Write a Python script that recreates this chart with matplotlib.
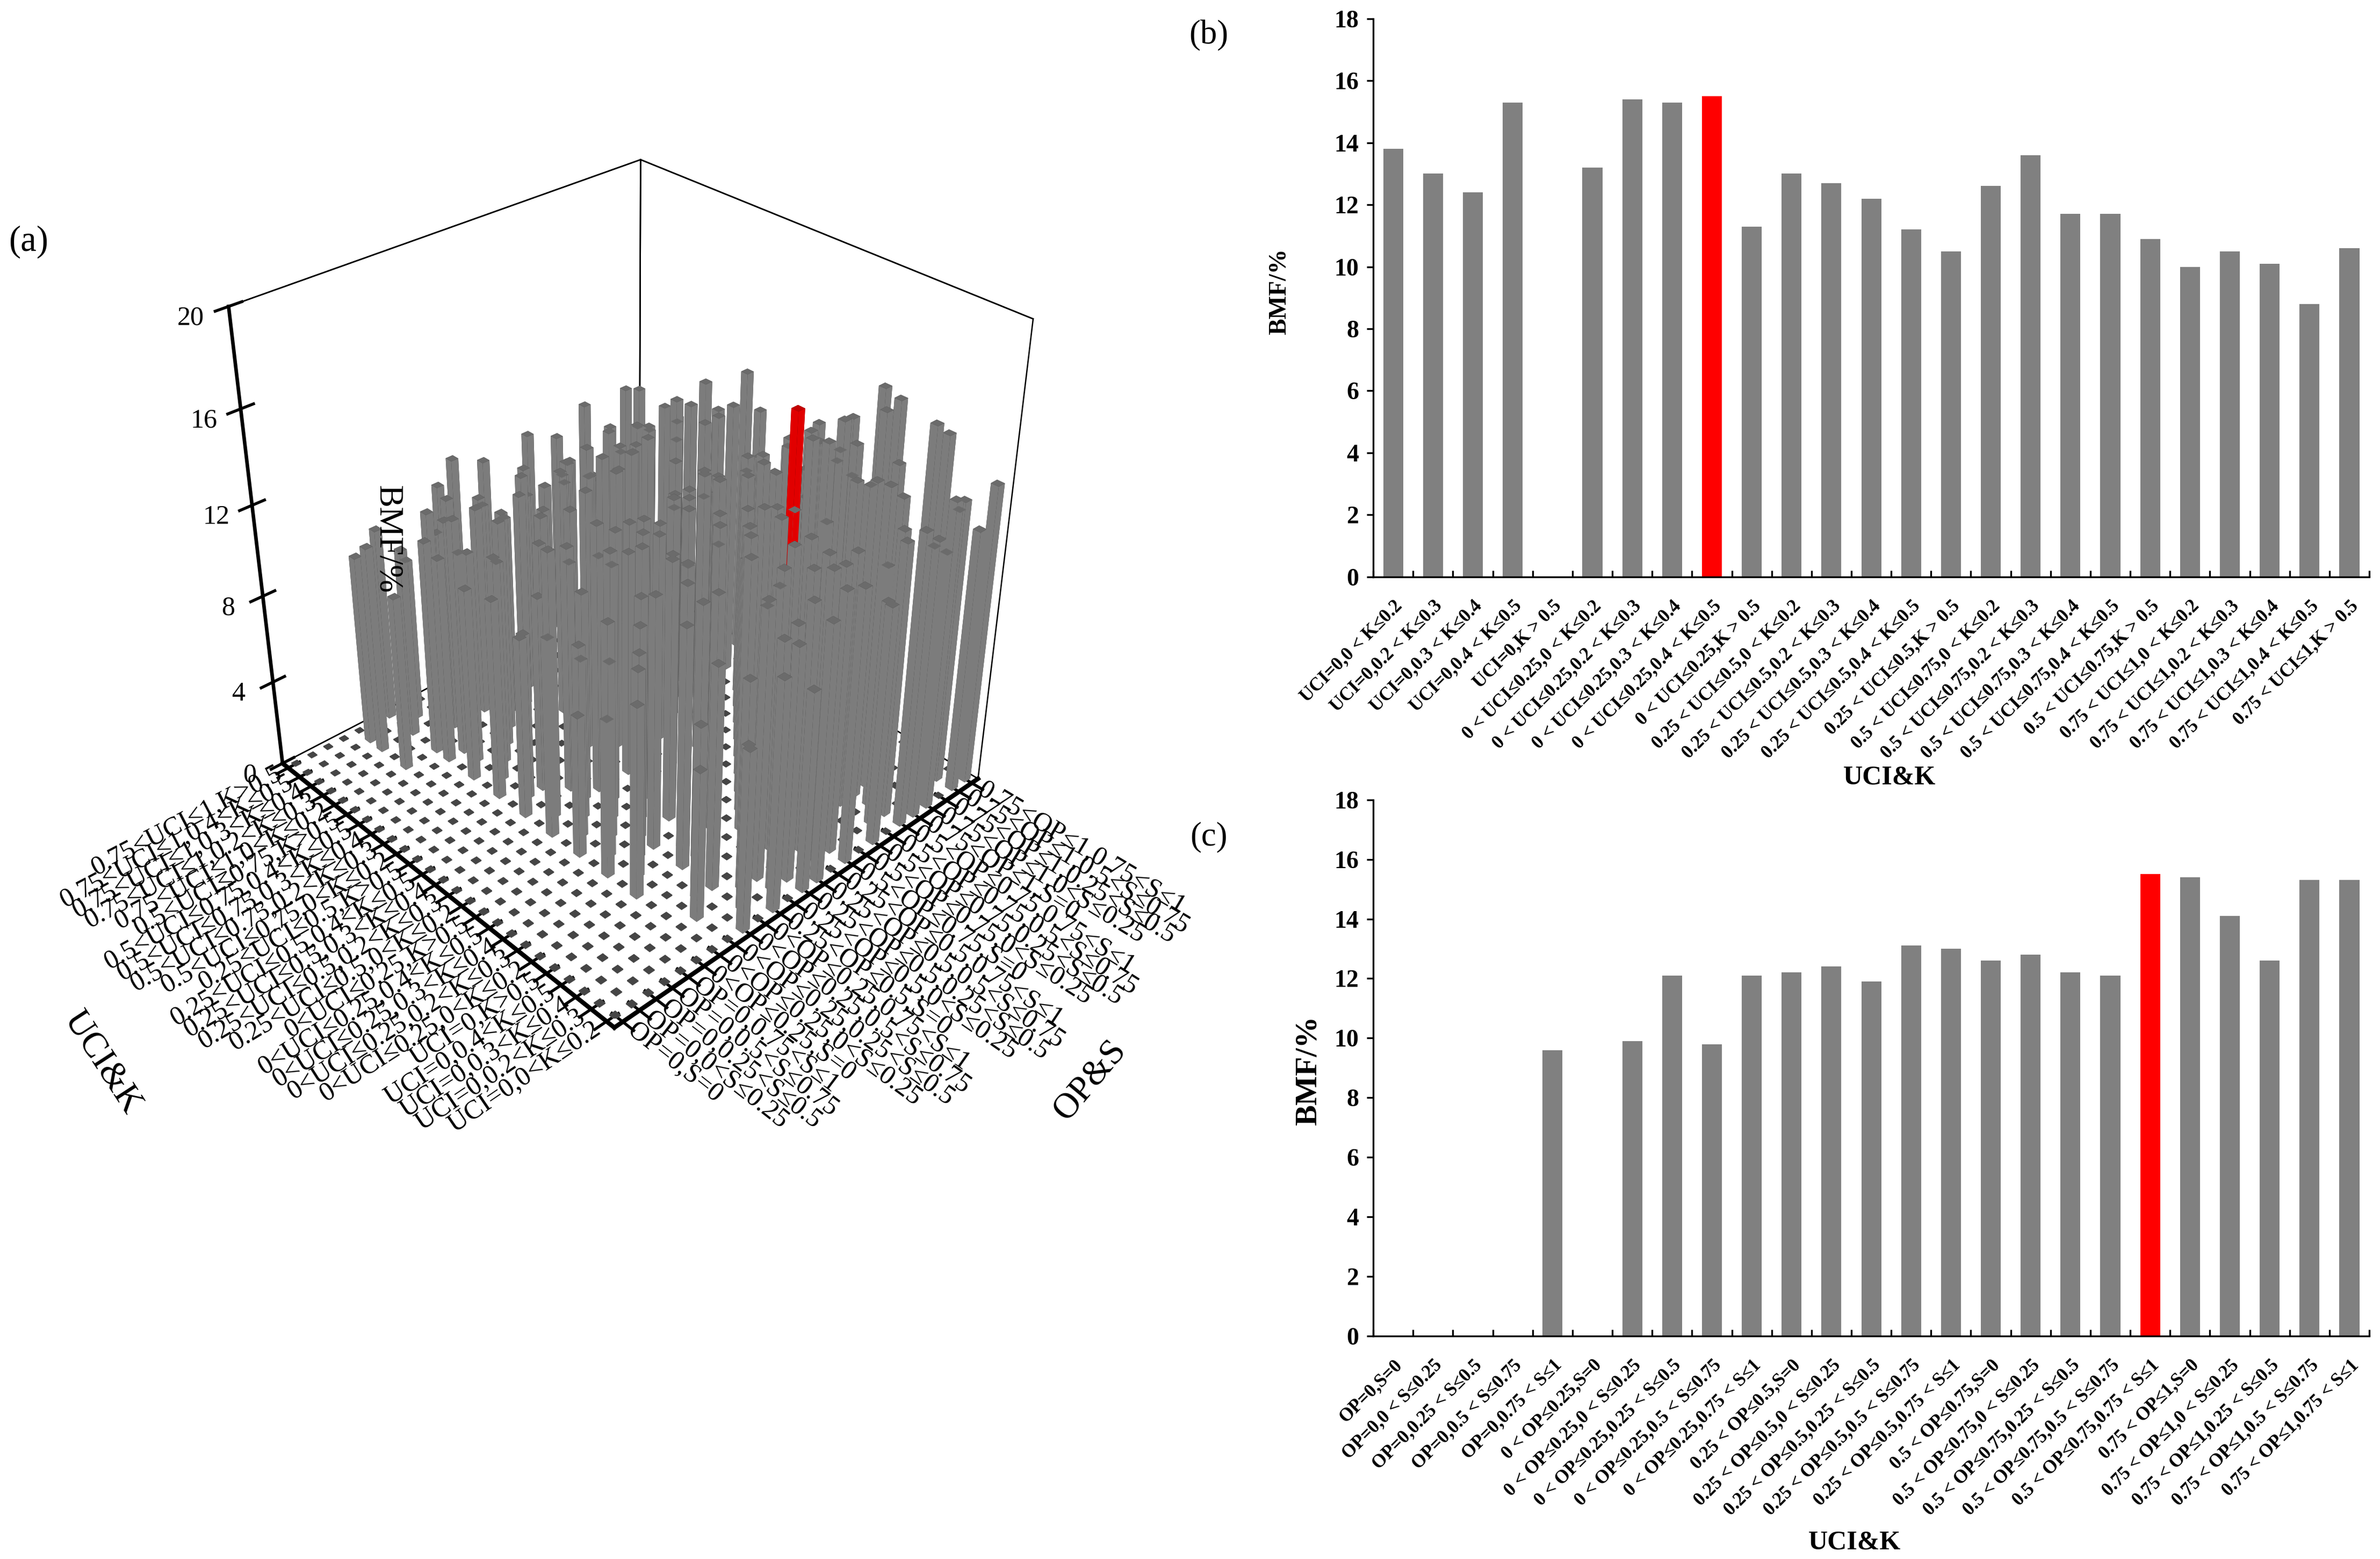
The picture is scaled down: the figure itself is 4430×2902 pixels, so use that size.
import numpy as np
import matplotlib
matplotlib.use('Agg')
import matplotlib.pyplot as plt

plt.rcParams['font.family'] = ['Liberation Serif', 'DejaVu Serif']
plt.rcParams['xtick.major.width'] = 1.3
plt.rcParams['ytick.major.width'] = 1.3

# categories
uci_k_labels = [
    'UCI=0,0 < K≤0.2', 'UCI=0,0.2 < K≤0.3', 'UCI=0,0.3 < K≤0.4', 'UCI=0,0.4 < K≤0.5', 'UCI=0,K > 0.5',
    '0 < UCI≤0.25,0 < K≤0.2', '0 < UCI≤0.25,0.2 < K≤0.3', '0 < UCI≤0.25,0.3 < K≤0.4',
    '0 < UCI≤0.25,0.4 < K≤0.5', '0 < UCI≤0.25,K > 0.5',
    '0.25 < UCI≤0.5,0 < K≤0.2', '0.25 < UCI≤0.5,0.2 < K≤0.3', '0.25 < UCI≤0.5,0.3 < K≤0.4',
    '0.25 < UCI≤0.5,0.4 < K≤0.5', '0.25 < UCI≤0.5,K > 0.5',
    '0.5 < UCI≤0.75,0 < K≤0.2', '0.5 < UCI≤0.75,0.2 < K≤0.3', '0.5 < UCI≤0.75,0.3 < K≤0.4',
    '0.5 < UCI≤0.75,0.4 < K≤0.5', '0.5 < UCI≤0.75,K > 0.5',
    '0.75 < UCI≤1,0 < K≤0.2', '0.75 < UCI≤1,0.2 < K≤0.3', '0.75 < UCI≤1,0.3 < K≤0.4',
    '0.75 < UCI≤1,0.4 < K≤0.5', '0.75 < UCI≤1,K > 0.5',
]
op_s_labels = [
    'OP=0,S=0', 'OP=0,0 < S≤0.25', 'OP=0,0.25 < S≤0.5', 'OP=0,0.5 < S≤0.75', 'OP=0,0.75 < S≤1',
    '0 < OP≤0.25,S=0', '0 < OP≤0.25,0 < S≤0.25', '0 < OP≤0.25,0.25 < S≤0.5',
    '0 < OP≤0.25,0.5 < S≤0.75', '0 < OP≤0.25,0.75 < S≤1',
    '0.25 < OP≤0.5,S=0', '0.25 < OP≤0.5,0 < S≤0.25', '0.25 < OP≤0.5,0.25 < S≤0.5',
    '0.25 < OP≤0.5,0.5 < S≤0.75', '0.25 < OP≤0.5,0.75 < S≤1',
    '0.5 < OP≤0.75,S=0', '0.5 < OP≤0.75,0 < S≤0.25', '0.5 < OP≤0.75,0.25 < S≤0.5',
    '0.5 < OP≤0.75,0.5 < S≤0.75', '0.5 < OP≤0.75,0.75 < S≤1',
    '0.75 < OP≤1,S=0', '0.75 < OP≤1,0 < S≤0.25', '0.75 < OP≤1,0.25 < S≤0.5',
    '0.75 < OP≤1,0.5 < S≤0.75', '0.75 < OP≤1,0.75 < S≤1',
]

# BMF (%) per UCI&K class (panel b) and per OP&S class (panel c)
bmf_uci_k = [13.8, 13.0, 12.4, 15.3, 0, 13.2, 15.4, 15.3, 15.5, 11.3,
             13.0, 12.7, 12.2, 11.2, 10.5, 12.6, 13.6, 11.7, 11.7, 10.9,
             10.0, 10.5, 10.1, 8.8, 10.6]
bmf_op_s = [0, 0, 0, 0, 9.6, 0, 9.9, 12.1, 9.8, 12.1,
            12.2, 12.4, 11.9, 13.1, 13.0, 12.6, 12.8, 12.2, 12.1, 15.5,
            15.4, 14.1, 12.6, 15.3, 15.3]

# joint BMF (%) : rows = UCI&K class, columns = OP&S class (panel a, estimated)
bmf_joint = [
    [0, 0, 0, 0, 0, 0, 0, 0, 8.2, 0, 10.4, 0, 9.1, 11.6, 0, 12.3, 0, 10.8, 0, 13.2, 12.5, 13.8, 0, 11.9, 13.5],
    [0, 0, 0, 0, 0, 0, 0, 0, 0, 7.5, 0, 11.2, 10.6, 0, 13.0, 11.8, 0, 0, 10.2, 12.4, 0, 11.5, 10.9, 12.8, 0],
    [0, 0, 0, 0, 0, 0, 0, 6.8, 0, 0, 9.5, 12.4, 0, 10.7, 11.3, 0, 12.1, 0, 0, 11.0, 12.2, 0, 9.8, 0, 11.7],
    [0, 0, 0, 0, 0, 0, 0, 0, 7.9, 10.1, 0, 0, 11.4, 12.6, 0, 11.9, 12.2, 0, 11.6, 14.2, 13.7, 12.9, 0, 15.3, 14.6],
    [0, 0, 0, 0, 0, 0, 0, 0, 0, 0, 0, 0, 0, 0, 0, 0, 0, 0, 0, 0, 0, 0, 0, 0, 0],
    [0, 0, 0, 0, 0, 0, 8.7, 0, 0, 10.9, 11.5, 0, 0, 12.3, 0, 10.4, 0, 11.8, 12.1, 0, 13.2, 12.7, 0, 13.0, 0],
    [0, 0, 0, 0, 0, 0, 0, 9.4, 0, 0, 11.9, 0, 10.8, 0, 12.5, 0, 12.6, 11.1, 0, 14.8, 15.4, 14.1, 0, 14.9, 15.1],
    [0, 0, 0, 0, 0, 0, 7.2, 0, 9.3, 11.4, 0, 12.0, 0, 12.9, 0, 12.2, 0, 0, 11.9, 14.6, 0, 13.5, 12.1, 0, 15.3],
    [0, 0, 0, 0, 0, 0, 0, 10.6, 0, 9.7, 0, 11.8, 11.2, 0, 12.7, 0, 11.5, 12.0, 0, 15.5, 14.3, 0, 12.4, 14.0, 0],
    [0, 0, 0, 0, 0, 0, 6.5, 0, 8.1, 0, 10.2, 0, 11.3, 9.8, 0, 10.7, 0, 9.4, 0, 11.0, 0, 10.8, 0, 0, 11.1],
    [0, 0, 0, 0, 0, 0, 0, 8.8, 0, 12.1, 0, 11.6, 0, 13.0, 12.2, 0, 12.8, 0, 10.9, 12.6, 0, 0, 11.4, 12.3, 0],
    [0, 0, 0, 0, 0, 0, 9.1, 0, 7.4, 0, 10.8, 0, 11.5, 0, 11.9, 12.0, 12.7, 0, 0, 11.7, 12.3, 11.2, 0, 0, 12.5],
    [0, 0, 0, 0, 0, 0, 0, 12.1, 0, 9.6, 12.2, 0, 10.3, 11.4, 0, 0, 11.7, 12.2, 0, 0, 11.9, 0, 10.6, 11.8, 0],
    [0, 0, 0, 0, 0, 0, 8.3, 0, 0, 11.2, 0, 10.1, 0, 10.9, 0, 9.7, 0, 0, 10.4, 11.0, 0, 10.6, 9.9, 0, 10.8],
    [0, 0, 0, 0, 0, 0, 0, 7.7, 9.0, 0, 9.8, 0, 0, 10.2, 0, 0, 9.5, 10.5, 0, 10.1, 9.6, 0, 0, 10.3, 0],
    [0, 0, 0, 0, 0, 0, 9.2, 0, 0, 10.6, 0, 11.4, 11.9, 0, 12.1, 12.6, 0, 0, 11.3, 0, 12.4, 0, 12.6, 0, 11.8],
    [0, 0, 0, 0, 0, 0, 0, 10.3, 0, 0, 11.1, 0, 0, 13.1, 12.4, 0, 12.0, 0, 0, 13.4, 12.9, 13.6, 11.8, 0, 13.2],
    [0, 0, 0, 0, 0, 0, 8.9, 0, 9.4, 0, 0, 10.7, 0, 0, 11.2, 0, 10.9, 0, 11.7, 0, 11.0, 0, 0, 11.5, 0],
    [0, 0, 0, 0, 0, 0, 0, 9.8, 0, 10.5, 0, 0, 11.1, 11.4, 0, 10.6, 0, 11.3, 0, 11.6, 0, 11.2, 11.7, 0, 10.9],
    [0, 0, 0, 0, 0, 0, 9.5, 10.9, 0, 0, 10.2, 0, 0, 0, 10.6, 0, 10.0, 0, 10.4, 0, 10.8, 0, 9.7, 0, 0],
    [0, 0, 0, 0, 8.1, 0, 9.9, 0, 8.7, 0, 0, 9.3, 10.0, 0, 0, 9.6, 0, 9.1, 0, 0, 9.8, 0, 0, 9.4, 0],
    [0, 0, 0, 0, 0, 0, 0, 10.5, 9.8, 0, 9.7, 0, 0, 10.2, 0, 0, 9.9, 0, 0, 10.4, 0, 10.1, 0, 0, 9.6],
    [0, 0, 0, 0, 9.6, 0, 8.8, 0, 0, 10.1, 0, 9.5, 0, 0, 9.9, 0, 0, 9.2, 0, 0, 10.0, 0, 9.4, 0, 9.8],
    [0, 0, 0, 0, 8.8, 0, 0, 7.6, 0, 8.2, 0, 0, 8.5, 0, 0, 8.0, 0, 0, 8.7, 0, 0, 8.3, 0, 8.6, 0],
    [0, 0, 0, 0, 0, 0, 9.0, 0, 0, 0, 9.7, 10.6, 0, 9.9, 0, 0, 10.2, 0, 9.5, 0, 10.4, 0, 0, 10.3, 10.0],
]

GREY = '#808080'
RED = '#ff0000'

fig = plt.figure(figsize=(4430 / 300, 2902 / 300), dpi=300)

# ---------------- (a) 3D bars ----------------
ax = fig.add_axes([0.0705, 0.3465, 0.377, 0.575], projection='3d')
joint = np.array(bmf_joint)
n_rows, n_cols = joint.shape
op_idx, uci_idx = np.meshgrid(np.arange(n_cols), np.arange(n_rows))
op_idx = op_idx.ravel()
uci_idx = uci_idx.ravel()
heights = joint.ravel()
has_bar = heights > 0
size = np.where(has_bar, 0.45, 0.36)
dz = np.where(has_bar, heights, 0.04)
peak = heights == heights.max()
colors = np.where(peak, RED, np.where(has_bar, '#8c8c8c', '#5a5a5a'))
ax.bar3d(op_idx - size / 2, uci_idx - size / 2, np.zeros_like(dz), size, size, dz,
         color=list(colors), shade=True, edgecolor='none')

x0, x1 = -0.5, n_cols - 0.5
y0, y1 = -0.5, n_rows - 0.5
ax.set_xlim(x0, x1)
ax.set_ylim(y0, y1)
ax.set_zlim(0, 20)
ax.set_box_aspect((1, 1, 1.03), zoom=1.0)
ax.view_init(elev=33, azim=-133)
ax.set_proj_type('persp', focal_length=0.42)
ax.grid(False)
for axis in (ax.xaxis, ax.yaxis, ax.zaxis):
    axis.set_pane_color((1, 1, 1, 1))
    axis.pane.set_edgecolor('black')
    axis.pane.set_linewidth(0.6)
    axis.line.set_color('black')
    axis._axinfo['tick']['inward_factor'] = 0.35
    axis._axinfo['tick']['outward_factor'] = 0.35
ax.xaxis.line.set_linewidth(2.0)
ax.yaxis.line.set_linewidth(2.0)
ax.zaxis.line.set_linewidth(1.6)

# back frame edges of the box
ax.plot([x1, x1], [y1, y1], [0, 20], color='black', lw=0.6)
ax.plot([x1, x1], [y0, y0], [0, 20], color='black', lw=0.6)
ax.plot([x0, x1, x1], [y1, y1, y0], [20, 20, 20], color='black', lw=0.6)

ax.set_xticks(np.arange(n_cols))
ax.set_yticks(np.arange(n_rows))
ax.set_xticklabels([])
ax.set_yticklabels([])
ax.set_zticks([0, 4, 8, 12, 16, 20])
ax.tick_params(axis='z', labelsize=12, pad=2)

for r, lab in enumerate(uci_k_labels):
    ax.text(-1.0, r, 0, lab.replace(' ', ''), zdir='x', ha='right', va='center',
            rotation_mode='anchor', fontsize=12)
for c, lab in enumerate(op_s_labels):
    ax.text(c, -1.0, 0, lab.replace(' ', ''), zdir=(0, -1, 0), ha='left', va='center',
            rotation_mode='anchor', fontsize=12)

fig.text(0.043, 0.318, 'UCI&K', fontsize=16, rotation=-57, ha='center', va='center')
fig.text(0.458, 0.307, 'OP&S', fontsize=16, rotation=50, ha='center', va='center')
fig.text(0.1626, 0.654, 'BMF/%', fontsize=15, rotation=-90, ha='center', va='center')
fig.text(0.012, 0.845, '(a)', fontsize=16, ha='center', va='center')


# ---------------- (b), (c) 2D bars ----------------
def draw_bars(ax2, values, labels, xlabel, ylabel_size):
    pos = np.arange(len(values))
    top = max(values)
    bar_colors = [RED if v == top else GREY for v in values]
    ax2.bar(pos, values, width=0.5, color=bar_colors)
    ax2.set_xlim(-0.5, len(values) - 0.5)
    ax2.set_ylim(0, 18)
    ax2.set_yticks(np.arange(0, 19, 2))
    ax2.set_xticks(pos)
    ax2.set_xticklabels(labels, rotation=45, ha='right', rotation_mode='anchor',
                        fontweight='bold', fontsize=8.3)
    ax2.set_xticks(np.arange(len(values) + 1) - 0.5, minor=True)
    ax2.tick_params(axis='x', which='major', length=0, pad=9)
    ax2.tick_params(axis='x', which='minor', direction='in', length=3, width=0.8)
    ax2.tick_params(axis='y', direction='out', length=3, width=0.8, labelsize=11)
    for t in ax2.get_yticklabels():
        t.set_fontweight('bold')
    for s in ('top', 'right'):
        ax2.spines[s].set_visible(False)
    for s in ('left', 'bottom'):
        ax2.spines[s].set_linewidth(0.8)
    ax2.set_xlabel(xlabel, fontsize=12, fontweight='bold', va='center')
    ax2.set_ylabel('BMF/%', fontsize=ylabel_size, fontweight='bold', va='center')


ax_b = fig.add_axes([0.577, 0.630, 0.4185, 0.358])
draw_bars(ax_b, bmf_uci_k, uci_k_labels, 'UCI&K', 11)
ax_b.xaxis.set_label_coords(0.518, -0.36)
ax_b.yaxis.set_label_coords(-0.094, 0.511)
ax_b.text(-0.165, 0.97, '(b)', transform=ax_b.transAxes, fontsize=15, ha='center', va='center')

ax_c = fig.add_axes([0.577, 0.143, 0.4185, 0.344])
draw_bars(ax_c, bmf_op_s, op_s_labels, 'UCI&K', 14)
ax_c.xaxis.set_label_coords(0.483, -0.385)
ax_c.yaxis.set_label_coords(-0.065, 0.495)
ax_c.text(-0.165, 0.93, '(c)', transform=ax_c.transAxes, fontsize=15, ha='center', va='center')

fig.savefig('out.png', dpi=300)
